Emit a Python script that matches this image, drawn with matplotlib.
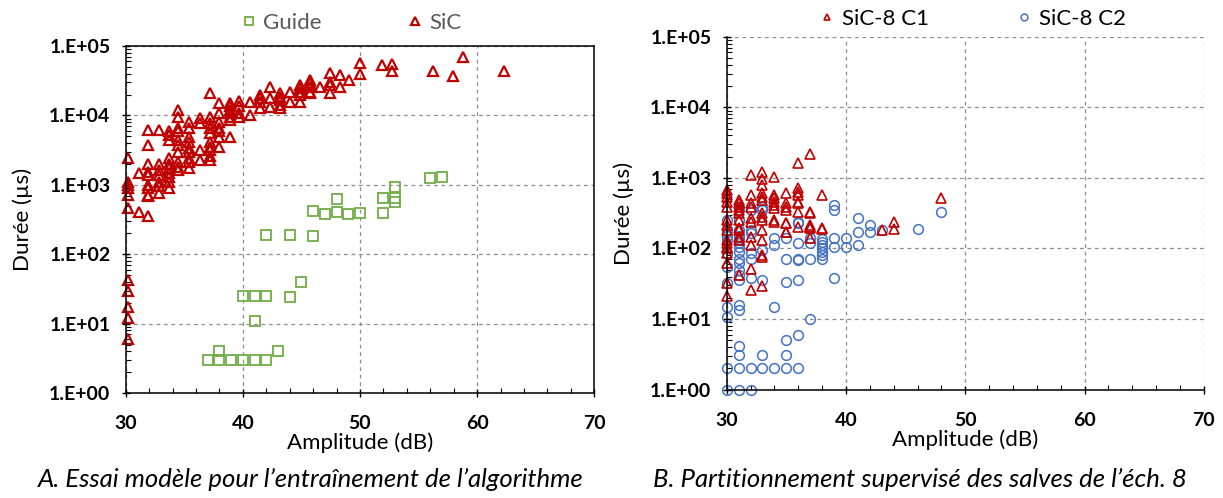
import numpy as np
import matplotlib
matplotlib.use("Agg")
import matplotlib.pyplot as plt
from matplotlib.ticker import LogLocator, NullFormatter, MultipleLocator

plt.rcParams["font.family"] = ["Lato", "DejaVu Sans"]

x_ticks = [30, 40, 50, 60, 70]
y_ticks = [1, 10, 100, 1000, 10000, 100000]
y_tick_labels = ["1.E+00", "1.E+01", "1.E+02", "1.E+03", "1.E+04", "1.E+05"]

# ---- panel A : Guide ----
guide_amp = [37, 38, 38, 39, 40, 41, 42, 43,
             41,
             40, 41, 42, 44, 45,
             42, 44, 46,
             46, 47, 48, 48, 49, 50, 52, 52, 53, 53, 53,
             56, 57]
guide_dur = [3, 4, 3, 3, 3, 3, 3, 4,
             11,
             25, 25, 25, 24, 40,
             190, 190, 185,
             420, 380, 630, 400, 380, 390, 390, 640, 920, 640, 560,
             1250, 1300]

# ---- panel A : SiC ----
sic_amp = (
    [30.2] * 11 + [31.1] * 2 + [31.9] * 10 + [32.8] * 7 + [33.7] * 10 +
    [34.5] * 10 + [35.4] * 9 + [36.3] * 4 + [37.2] * 10 + [38.0] * 7 +
    [38.9] * 7 + [39.7] * 4 + [40.6] * 2 + [41.5] * 4 + [42.3] * 3 +
    [43.2] * 5 + [44.0] * 2 + [44.9] * 5 + [45.7] * 5 + [46.6] * 1 +
    [47.4] * 4 + [48.3] * 2 + [49.1] * 1 + [50.0] * 2 + [51.9] * 1 +
    [52.7] * 2 + [56.2] * 1 + [57.9] * 1 + [58.8] * 1 + [62.3] * 1
)
sic_dur = [
    2400, 1100, 1000, 900, 710, 460, 42, 30, 17.5, 12, 6.1,
    1480, 410,
    6200, 3700, 2000, 1550, 1400, 1000, 900, 710, 680, 350,
    6200, 2000, 1650, 1400, 1100, 960, 760,
    5900, 5200, 4400, 2400, 2000, 1750, 1480, 1300, 1100, 890,
    12000, 9600, 6500, 5900, 4400, 3700, 3000, 2150, 1800, 1650,
    8100, 6500, 4900, 4100, 3400, 3000, 2400, 2150, 1750,
    9100, 7800, 3200, 2300,
    21000, 9600, 7800, 6500, 5500, 4200, 3500, 3200, 2600, 2300,
    15000, 10700, 8100, 6500, 5900, 4900, 3500,
    15000, 13500, 12000, 10700, 9600, 8700, 4900,
    16000, 13500, 11000, 9600,
    15800, 10000,
    19600, 17700, 15800, 12700,
    26000, 17700, 13400,
    21000, 18600, 16700, 14200, 12700,
    22000, 15800,
    27500, 24600, 22000, 19600, 15800,
    32400, 29000, 26000, 22000, 21000,
    26000,
    40500, 30800, 27500, 21000,
    38000, 26000,
    32400,
    56000, 40000,
    53000,
    55000, 44000,
    43000,
    37000,
    70000,
    43000,
]

# ---- panel B : SiC-8 C1 ----
c1_amp = ([30] * 16 + [31] * 11 + [32] * 10 + [33] * 14 + [34] * 8 +
          [35] * 8 + [36] * 8 + [37] * 8 + [38] * 3 + [43] + [44] * 2 + [48])
c1_dur = [
    675, 605, 540, 460, 390, 253, 215, 183, 132, 118, 106, 100, 85, 62, 32, 21,
    490, 437, 390, 350, 315, 253, 194, 183, 147, 132, 42,
    1100, 575, 437, 390, 268, 240, 147, 112, 52, 26,
    1230, 980, 790, 605, 540, 490, 315, 283, 253, 183, 132, 81, 29, 76,
    1040, 575, 515, 460, 415, 370, 253, 240,
    605, 437, 390, 350, 228, 174, 228, 174,
    1650, 710, 640, 575, 460, 437, 330, 204,
    2180, 330, 315, 204, 194, 215, 139, 204,
    575, 187, 194,
    183,
    240, 187,
    515,
]

# ---- panel B : SiC-8 C2 ----
c2_amp = ([30] * 11 + [31] * 20 + [32] * 8 + [33] * 6 + [34] * 4 + [35] * 6 +
          [36] * 8 + [37] * 4 + [38] * 7 + [39] * 5 + [40] * 2 + [41] * 3 +
          [42] * 2 + [43] + [46] + [48])
c2_dur = [
    253, 183, 150, 132, 85, 55, 32, 15, 10.8, 2, 1,
    390, 350, 253, 183, 150, 132, 118, 106, 90, 72, 62, 50, 42, 36, 16, 13.5, 4.1, 3.1, 2, 1,
    350, 183, 165, 85, 72, 38, 2, 1,
    390, 350, 95, 36, 3.1, 2,
    143, 112, 15, 2,
    143, 72, 34, 5, 3.1, 2,
    240, 228, 118, 72, 69, 36, 5.9, 2,
    143, 118, 72, 10,
    136, 125, 112, 100, 90, 81, 72,
    415, 350, 143, 106, 38,
    143, 106,
    268, 174, 112,
    216, 174,
    183,
    187,
    330,
]

RED = "#C00000"
GREEN = "#70AD47"
BLUE = "#4472C4"
GREY_TXT = "#595959"


def style_axis(ax, full_box):
    ax.set_yscale("log")
    ax.set_xlim(30, 70)
    ax.set_ylim(1, 1e5)
    ax.set_xticks(x_ticks, labels=[str(v) for v in x_ticks], fontweight="bold", fontsize=14)
    ax.xaxis.set_minor_locator(MultipleLocator(2))
    ax.set_yticks(y_ticks, labels=y_tick_labels, fontweight="bold", fontsize=14)
    ax.yaxis.set_minor_locator(LogLocator(base=10, subs=np.arange(2, 10), numticks=10))
    ax.yaxis.set_minor_formatter(NullFormatter())
    ax.tick_params(which="major", direction="inout", length=6, width=1)
    ax.tick_params(axis="x", which="major", pad=13)
    ax.tick_params(axis="y", which="major", pad=8)
    ax.tick_params(which="minor", direction="in", length=3.5, width=0.8)
    ax.grid(True, which="major", linestyle=(0, (3, 3)), color="#8c8c8c", linewidth=0.9)
    ax.set_axisbelow(True)
    ax.set_xlabel("Amplitude (dB)", fontsize=16, labelpad=0)
    ax.set_ylabel("Durée (µs)", fontsize=16, labelpad=12)
    for s in ["left", "bottom"]:
        ax.spines[s].set_color("black")
        ax.spines[s].set_linewidth(1.1)
    if full_box:
        for s in ["top", "right"]:
            ax.spines[s].set_color("black")
            ax.spines[s].set_linewidth(1.1)
    else:
        ax.spines["top"].set_visible(False)
        ax.spines["right"].set_visible(False)


fig = plt.figure(figsize=(12.23, 4.98), dpi=100)
axA = fig.add_axes([0.1028, 0.2108, 0.3831, 0.6968])
axB = fig.add_axes([0.5942, 0.2175, 0.3902, 0.7088])

hG, = axA.plot(guide_amp, guide_dur, linestyle="none", marker="s", ms=7.5,
               mfc="none", mec=GREEN, mew=1.3, label="Guide")
hS, = axA.plot(sic_amp, sic_dur, linestyle="none", marker="^", ms=7.5,
               mfc="none", mec=RED, mew=1.6, label="SiC", clip_on=False)
style_axis(axA, True)
axA.legend(handles=[hG, hS], loc="lower center", bbox_to_anchor=(0.48, 1.0), ncol=2,
           frameon=False, fontsize=16, labelcolor=GREY_TXT, markerscale=0.8,
           handlelength=0.8, handletextpad=0.25, columnspacing=3.8, borderaxespad=0.2)

h2, = axB.plot(c2_amp, c2_dur, linestyle="none", marker="o", ms=7,
               mfc="none", mec=BLUE, mew=1.1, label="SiC-8 C2", clip_on=False)
h1, = axB.plot(c1_amp, c1_dur, linestyle="none", marker="^", ms=7,
               mfc="none", mec=RED, mew=1.2, label="SiC-8 C1", clip_on=False)
style_axis(axB, False)
axB.legend(handles=[h1, h2], loc="lower center", bbox_to_anchor=(0.514, 0.985), ncol=2,
           frameon=False, fontsize=16, labelcolor="black", markerscale=0.7,
           handlelength=0.8, handletextpad=0.25, columnspacing=3.9, borderaxespad=0.2)

fig.text(0.254, 0.022, "A. Essai modèle pour l’entraînement de l’algorithme",
         fontsize=18.5, style="italic", ha="center")
fig.text(0.752, 0.022, "B. Partitionnement supervisé des salves de l’éch. 8",
         fontsize=18.5, style="italic", ha="center")

fig.savefig("out.png", dpi=100)
